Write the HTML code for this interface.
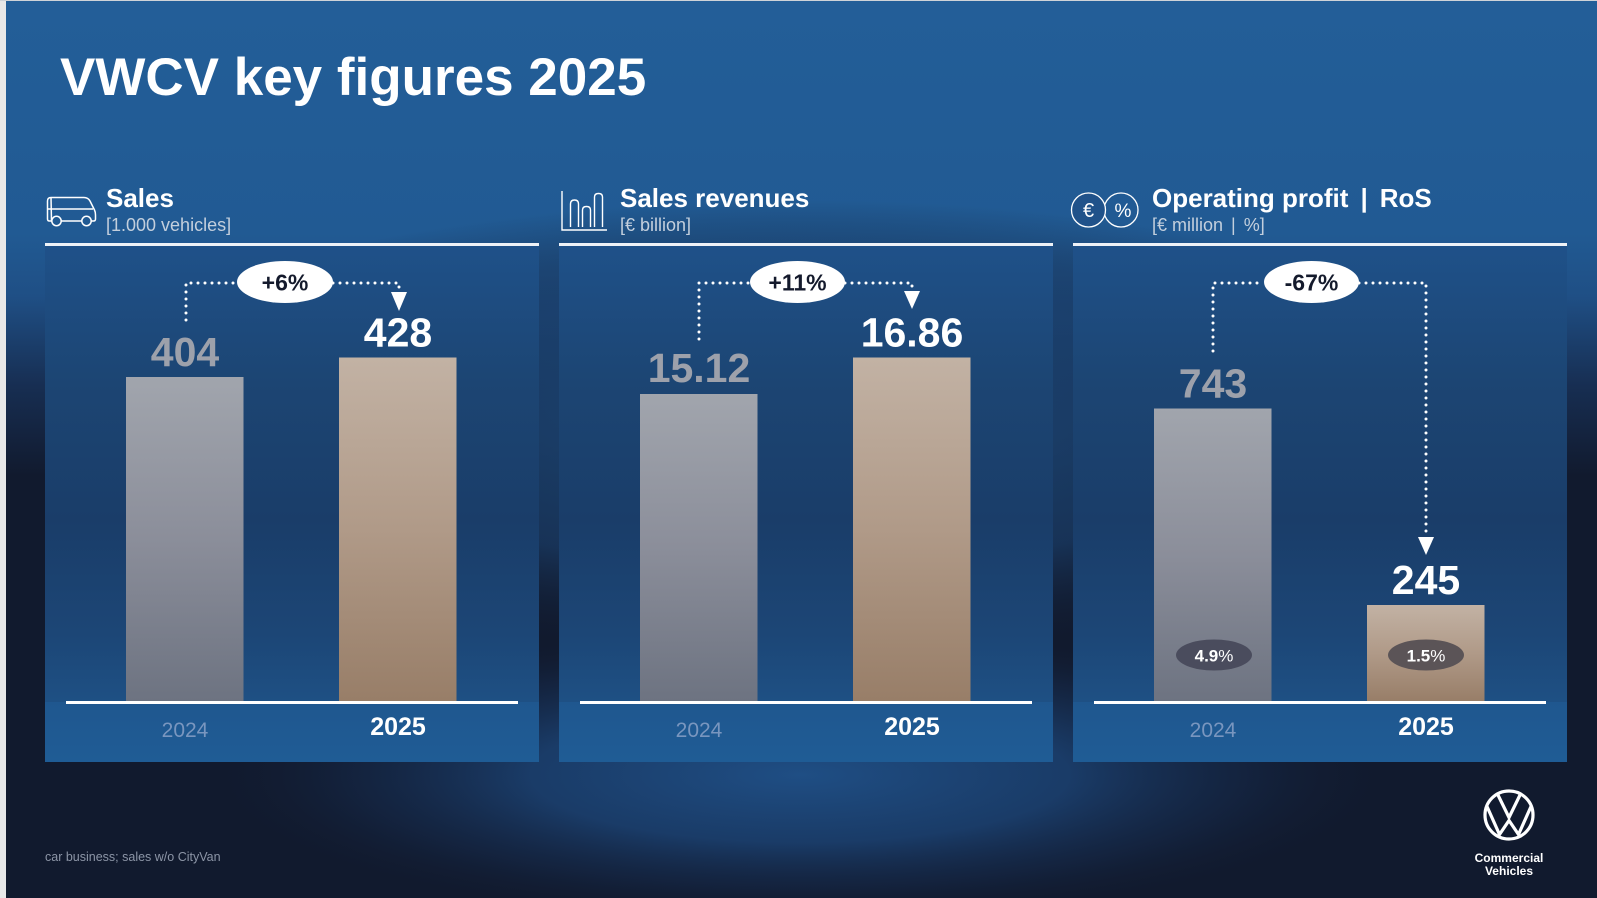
<!DOCTYPE html>
<html>
<head>
<meta charset="utf-8">
<style>
html,body{margin:0;padding:0;background:#111a2e;}
body{width:1597px;height:898px;overflow:hidden;}
svg{display:block;}
text{font-family:"Liberation Sans",sans-serif;}
</style>
</head>
<body>
<svg width="1597" height="898" viewBox="0 0 1597 898" xmlns="http://www.w3.org/2000/svg">
<defs>
  <linearGradient id="bgTop" x1="0" y1="0" x2="0" y2="898" gradientUnits="userSpaceOnUse">
    <stop offset="0" stop-color="#235e98"/>
    <stop offset="0.26" stop-color="#215a93"/>
    <stop offset="0.33" stop-color="#1f4f85"/>
    <stop offset="0.43" stop-color="#172e52"/>
    <stop offset="0.53" stop-color="#111a2e"/>
    <stop offset="1" stop-color="#111a2e"/>
  </linearGradient>
  <radialGradient id="midGlow" cx="800" cy="430" r="1" gradientUnits="userSpaceOnUse" gradientTransform="translate(800 430) scale(760 230) translate(-800 -430)">
    <stop offset="0" stop-color="#1c4674" stop-opacity="1"/>
    <stop offset="0.6" stop-color="#1a3d68" stop-opacity="0.7"/>
    <stop offset="1" stop-color="#111a2e" stop-opacity="0"/>
  </radialGradient>
  <radialGradient id="botGlow" cx="800" cy="775" r="1" gradientUnits="userSpaceOnUse" gradientTransform="translate(800 775) scale(600 150) translate(-800 -775)">
    <stop offset="0" stop-color="#1f4e84" stop-opacity="1"/>
    <stop offset="0.45" stop-color="#1c4476" stop-opacity="0.8"/>
    <stop offset="0.75" stop-color="#172f54" stop-opacity="0.4"/>
    <stop offset="1" stop-color="#111a2e" stop-opacity="0"/>
  </radialGradient>
  <linearGradient id="pg" x1="0" y1="246" x2="0" y2="702" gradientUnits="userSpaceOnUse">
    <stop offset="0" stop-color="#1f5189"/>
    <stop offset="0.3" stop-color="#1c4573"/>
    <stop offset="0.6" stop-color="#1a3d69"/>
    <stop offset="0.85" stop-color="#1c4676"/>
    <stop offset="1" stop-color="#1e5084"/>
  </linearGradient>
  <linearGradient id="band" x1="0" y1="702" x2="0" y2="762" gradientUnits="userSpaceOnUse">
    <stop offset="0" stop-color="#1f578f"/>
    <stop offset="1" stop-color="#1f5c95"/>
  </linearGradient>
  <linearGradient id="g24" x1="0" y1="0" x2="0" y2="1">
    <stop offset="0" stop-color="#a1a5ad"/>
    <stop offset="0.5" stop-color="#8b8e9a"/>
    <stop offset="1" stop-color="#6d7381"/>
  </linearGradient>
  <linearGradient id="g25" x1="0" y1="0" x2="0" y2="1">
    <stop offset="0" stop-color="#c2b2a4"/>
    <stop offset="0.5" stop-color="#b09a88"/>
    <stop offset="1" stop-color="#987e68"/>
  </linearGradient>
</defs>

<!-- background -->
<rect x="0" y="0" width="1597" height="898" fill="#111a2e"/>
<rect x="0" y="0" width="1597" height="898" fill="url(#bgTop)"/>
<rect x="0" y="0" width="1597" height="898" fill="url(#midGlow)"/>
<rect x="0" y="600" width="1597" height="298" fill="url(#botGlow)"/>
<rect x="0" y="0" width="6" height="898" fill="#e8e8e8"/>
<rect x="0" y="0" width="1597" height="1" fill="#cfd3d8"/>

<!-- Title -->
<text x="60" y="95" font-size="53" font-weight="bold" fill="#ffffff">VWCV key figures 2025</text>

<!-- Panels -->
<g>
  <rect x="45" y="246" width="494" height="456" fill="url(#pg)"/>
  <rect x="45" y="702" width="494" height="60" fill="url(#band)"/>
  <rect x="559" y="246" width="494" height="456" fill="url(#pg)"/>
  <rect x="559" y="702" width="494" height="60" fill="url(#band)"/>
  <rect x="1073" y="246" width="494" height="456" fill="url(#pg)"/>
  <rect x="1073" y="702" width="494" height="60" fill="url(#band)"/>
  <rect x="45" y="243" width="494" height="3" fill="#eef2f7"/>
  <rect x="559" y="243" width="494" height="3" fill="#eef2f7"/>
  <rect x="1073" y="243" width="494" height="3" fill="#eef2f7"/>
</g>

<!-- Van icon -->
<g fill="none" stroke="#ffffff" stroke-width="1.5" stroke-linejoin="round">
  <path d="M51,197.5 L84,197.5 Q88,197.5 90,201 L94.5,210 Q95.5,212 95.5,215 L95.5,219 Q95.5,221 93.5,221 L91.5,221 M81.5,221 L61.5,221 M51.5,221 L49.5,221 Q47.5,221 47.5,219 L47.5,201 Q47.5,197.5 51,197.5 Z"/>
  <path d="M47.5,209 L93,209"/>
  <circle cx="56.5" cy="221" r="4.7"/>
  <circle cx="86.5" cy="221" r="4.7"/>
</g>
<text x="106" y="207" font-size="26" font-weight="bold" fill="#ffffff">Sales</text>
<text x="106" y="231" font-size="18" fill="#c3cfdd">[1.000 vehicles]</text>

<!-- Bar chart icon -->
<g fill="none" stroke="#ffffff" stroke-width="1.4">
  <path d="M562,191 L562,230 L607,230"/>
  <path d="M570.5,227 L570.5,204 Q570.5,200 574.5,200 Q578.5,200 578.5,204 L578.5,227"/>
  <path d="M582.5,227 L582.5,210 Q582.5,206.5 586.5,206.5 Q590.5,206.5 590.5,210 L590.5,227"/>
  <path d="M594.5,227 L594.5,197 Q594.5,193.5 598.5,193.5 Q602.5,193.5 602.5,197 L602.5,227"/>
</g>
<text x="620" y="207" font-size="26" font-weight="bold" fill="#ffffff">Sales revenues</text>
<text x="620" y="231" font-size="18" fill="#c3cfdd">[€ billion]</text>

<!-- Euro / percent icon -->
<circle cx="1121" cy="210" r="17" fill="none" stroke="#ffffff" stroke-width="1.3"/>
<circle cx="1088.5" cy="210" r="17" fill="#20528a" stroke="#ffffff" stroke-width="1.3"/>
<text x="1088.5" y="217" font-size="20" fill="#ffffff" text-anchor="middle">€</text>
<text x="1123" y="217" font-size="19" fill="#ffffff" text-anchor="middle">%</text>
<text x="1152" y="207" font-size="26" font-weight="bold" fill="#ffffff">Operating profit<tspan dx="12">|</tspan><tspan dx="12">RoS</tspan></text>
<text x="1152" y="231" font-size="18" fill="#c3cfdd">[€ million<tspan dx="8">|</tspan><tspan dx="8">%]</tspan></text>

<!-- Bars -->
<rect x="126" y="377" width="117.5" height="324" fill="url(#g24)"/>
<rect x="339" y="357.5" width="117.5" height="343.5" fill="url(#g25)"/>
<rect x="640" y="394" width="117.5" height="307" fill="url(#g24)"/>
<rect x="853" y="357.5" width="117.5" height="343.5" fill="url(#g25)"/>
<rect x="1154" y="408.5" width="117.5" height="292.5" fill="url(#g24)"/>
<rect x="1367" y="605" width="117.5" height="96" fill="url(#g25)"/>

<!-- Baselines -->
<rect x="66" y="701" width="452" height="3" fill="#ffffff"/>
<rect x="580" y="701" width="452" height="3" fill="#ffffff"/>
<rect x="1094" y="701" width="452" height="3" fill="#ffffff"/>

<!-- Values -->
<g font-size="41" font-weight="bold" text-anchor="middle">
  <text x="185" y="366" fill="#9da1ab">404</text>
  <text x="398" y="346.5" fill="#ffffff">428</text>
  <text x="699" y="382" fill="#9da1ab">15.12</text>
  <text x="912" y="346.5" fill="#ffffff">16.86</text>
  <text x="1213" y="397.5" fill="#9da1ab">743</text>
  <text x="1426" y="594" fill="#ffffff">245</text>
</g>

<!-- Year labels -->
<g text-anchor="middle">
  <text x="185" y="737" font-size="21" fill="#7996bf">2024</text>
  <text x="398" y="735" font-size="25" font-weight="bold" fill="#ffffff">2025</text>
  <text x="699" y="737" font-size="21" fill="#7996bf">2024</text>
  <text x="912" y="735" font-size="25" font-weight="bold" fill="#ffffff">2025</text>
  <text x="1213" y="737" font-size="21" fill="#7996bf">2024</text>
  <text x="1426" y="735" font-size="25" font-weight="bold" fill="#ffffff">2025</text>
</g>

<!-- Dotted connectors -->
<g fill="none" stroke="#ffffff" stroke-width="3" stroke-dasharray="0 7" stroke-linecap="round">
  <path d="M186,320 V283 H237"/>
  <path d="M333,283 H399 V292"/>
  <path d="M699,339 V283 H750"/>
  <path d="M845,283 H912 V291"/>
  <path d="M1213,351 V283 H1264"/>
  <path d="M1359,283 H1426 V537"/>
</g>
<g fill="#ffffff">
  <polygon points="391,292 407,292 399,311"/>
  <polygon points="904,291 920,291 912,309"/>
  <polygon points="1418,537 1434,537 1426,555"/>
</g>

<!-- Change pills -->
<g>
  <ellipse cx="285" cy="282" rx="48" ry="21" fill="#ffffff"/>
  <ellipse cx="797.5" cy="282" rx="47.5" ry="21" fill="#ffffff"/>
  <ellipse cx="1311.5" cy="282" rx="47.5" ry="21" fill="#ffffff"/>
</g>
<g font-size="23" font-weight="bold" fill="#141a2c" text-anchor="middle">
  <text x="285" y="290.5">+6%</text>
  <text x="797.5" y="290.5">+11%</text>
  <text x="1311.5" y="290.5">-67%</text>
</g>

<!-- RoS pills -->
<ellipse cx="1214" cy="655" rx="38" ry="15.5" fill="#4a4c5d"/>
<ellipse cx="1426" cy="655" rx="38" ry="15.5" fill="#5b5457"/>
<text x="1214" y="661.5" font-size="17" fill="#ffffff" text-anchor="middle"><tspan font-weight="bold">4.9</tspan>%</text>
<text x="1426" y="661.5" font-size="17" fill="#ffffff" text-anchor="middle"><tspan font-weight="bold">1.5</tspan>%</text>

<!-- Footnote -->
<text x="45" y="861" font-size="12.5" fill="#8c95a6">car business; sales w/o CityVan</text>

<!-- VW logo -->
<g transform="translate(1509 815)" fill="none" stroke="#ffffff" stroke-width="3.2" stroke-linejoin="miter">
  <circle cx="0" cy="0" r="24"/>
  <polyline points="-11.5,-21 0,2.5 11.5,-21"/>
  <polyline points="-22,-8.5 -9.5,19.5 0,5.5 9.5,19.5 22,-8.5"/>
</g>
<g font-size="12" font-weight="bold" fill="#ffffff" text-anchor="middle">
  <text x="1509" y="862">Commercial</text>
  <text x="1509" y="875">Vehicles</text>
</g>
</svg>
</body>
</html>
